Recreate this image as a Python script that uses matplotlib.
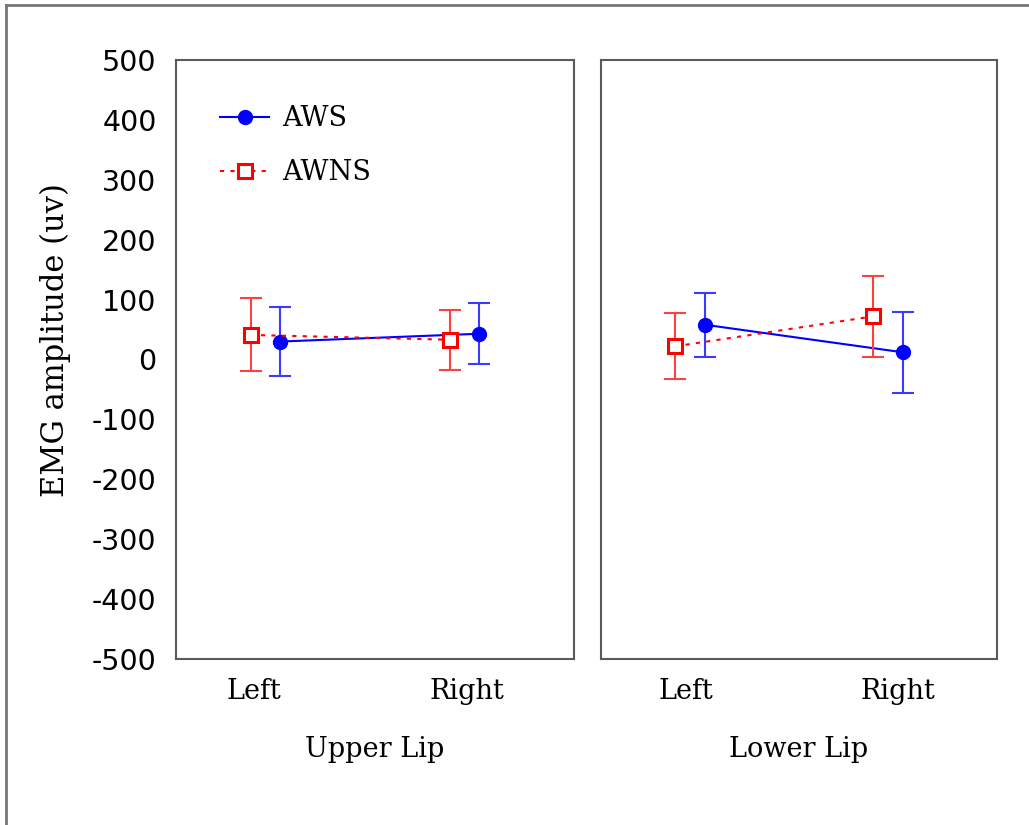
import numpy as np
import matplotlib.pyplot as plt

plt.rcParams["axes.unicode_minus"] = False

sides = ["Left", "Right"]
regions = ["Upper Lip", "Lower Lip"]

# mean and error (half-width) per region, [Left, Right]
aws_mean = {"Upper Lip": [30, 43], "Lower Lip": [58, 12]}
aws_err = {"Upper Lip": [58, 51], "Lower Lip": [53, 68]}
awns_mean = {"Upper Lip": [41, 33], "Lower Lip": [22, 72]}
awns_err = {"Upper Lip": [61, 50], "Lower Lip": [55, 68]}

serif = "DejaVu Serif"
spine_col = "#5a5a5a"

fig = plt.figure(figsize=(10.29, 8.25), dpi=100)
# outer frame (left and top edges only visible)
fig.add_artist(plt.Line2D([0.006, 0.006], [0, 0.994], color="#777777", lw=2, transform=fig.transFigure))
fig.add_artist(plt.Line2D([0.006, 1.0], [0.994, 0.994], color="#777777", lw=2, transform=fig.transFigure))

ax1 = fig.add_axes([176 / 1029, 1 - 659 / 825, 398 / 1029, 599 / 825])
ax2 = fig.add_axes([601 / 1029, 1 - 659 / 825, 396 / 1029, 599 / 825])

x = np.arange(len(sides))
off = 0.075
tick_shift = {"Upper Lip": [-0.06, 0.01], "Lower Lip": [-0.02, 0.05]}
for ax, region in zip([ax1, ax2], regions):
    ax.errorbar(x + off, aws_mean[region], yerr=aws_err[region], fmt="none",
                ecolor="#3b3bff", capsize=8, elinewidth=1.5, capthick=1.5)
    ax.plot(x + off, aws_mean[region], color="blue", marker="o", markersize=10,
            ls="-", lw=1.5, label="AWS")
    ax.errorbar(x - off, awns_mean[region], yerr=awns_err[region], fmt="none",
                ecolor="#ff4040", capsize=8, elinewidth=1.5, capthick=1.5)
    ax.plot(x - off, awns_mean[region], color="red", marker="s", markersize=10,
            mfc="white", mew=2.2, ls=(0, (2, 3)), lw=1.5, label="AWNS")
    ax.set_xlim(-0.45, 1.55)
    ax.set_ylim(-500, 500)
    ax.set_xticks(x + np.array(tick_shift[region]))
    ax.set_xticklabels(sides, fontsize=19.5, family=serif)
    ax.tick_params(length=0, pad=14)
    ax.set_xlabel(region, fontsize=19.5, family=serif, labelpad=22)
    for s in ax.spines.values():
        s.set_color(spine_col)
        s.set_linewidth(1.5)

ax1.set_yticks(np.arange(-500, 501, 100))
ax1.tick_params(axis="y", labelsize=20.5, pad=14)
for t in ax1.get_yticklabels():
    t.set_family("DejaVu Sans")
ax1.set_ylabel("EMG amplitude (uv)", fontsize=22, family=serif)
ax1.yaxis.set_label_coords(-0.265, 0.533)
ax2.set_yticks([])

ax1.legend(loc="upper left", bbox_to_anchor=(0.05, 0.965), frameon=False,
           prop={"family": serif, "size": 19.5}, handlelength=1.8, handletextpad=0.5,
           labelspacing=1.0, numpoints=1)

fig.savefig("out.png", dpi=100)
